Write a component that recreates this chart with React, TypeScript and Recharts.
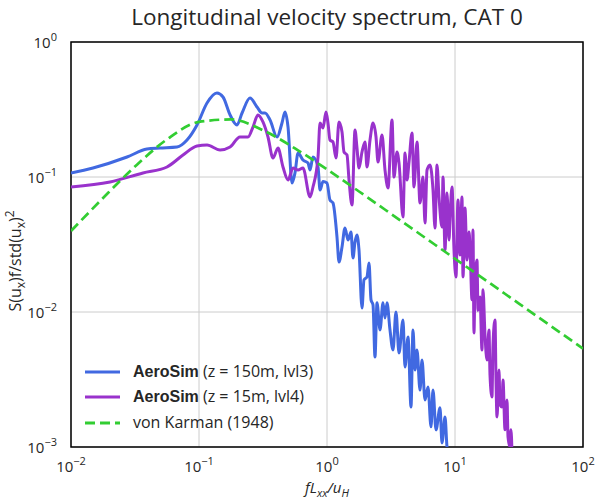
import React from 'react';
import { LineChart, Line, XAxis, YAxis, CartesianGrid, ReferenceArea } from 'recharts';

const FONT = '"Open Sans", "DejaVu Sans", sans-serif';
const TXT = '#262626';

const chartTitle = 'Longitudinal velocity spectrum, CAT 0';
const seriesNames = ['AeroSim', 'AeroSim', 'von Karman (1948)'];
const seriesDetails = [' (z = 150m, lvl3)', ' (z = 15m, lvl4)', ''];

const xTicks = [0.01, 0.1, 1, 10, 100];
const xTickExps = ['−2', '−1', '0', '1', '2'];
const yTicks = [0.001, 0.01, 0.1, 1];
const yTickExps = ['−3', '−2', '−1', '0'];

// AeroSim z = 150m, lvl3 : [fLxx/uH, S f / var]
const aero150: [number, number][] = [
  [0.0100, 0.1071], [0.01485, 0.1166], [0.0274, 0.1406], [0.0392, 0.1612], [0.0496, 0.1640],
  [0.0673, 0.1668], [0.0806, 0.1879], [0.0965, 0.2427], [0.1155, 0.3532], [0.138, 0.419],
  [0.154, 0.3914], [0.175, 0.2880], [0.198, 0.2427], [0.217, 0.2979], [0.250, 0.3847],
  [0.284, 0.3301], [0.311, 0.2979], [0.328, 0.2979], [0.359, 0.2644], [0.407, 0.1978],
  [0.445, 0.2512], [0.470, 0.3030], [0.496, 0.2346], [0.533, 0.0903], [0.562, 0.1071],
  [0.594, 0.1506], [0.649, 0.1336], [0.711, 0.1270], [0.737, 0.1127], [0.777, 0.1406],
  [0.851, 0.1186], [0.882, 0.0801], [0.931, 0.0925], [1.000, 0.0903], [1.055, 0.0676],
  [1.114, 0.0642], [1.197, 0.0359], [1.241, 0.0235], [1.310, 0.0303], [1.382, 0.0419],
  [1.459, 0.0341], [1.540, 0.0391], [1.596, 0.0251], [1.655, 0.0330], [1.715, 0.0372],
  [1.778, 0.0288], [1.877, 0.0107], [1.945, 0.0173], [2.054, 0.0182], [2.129, 0.0231],
  [2.207, 0.0123], [2.288, 0.0113], [2.371, 0.00464], [2.459, 0.0117], [2.595, 0.00736],
  [2.738, 0.0117], [2.839, 0.00903], [2.943, 0.0117], [3.106, 0.00736], [3.278, 0.00523],
  [3.459, 0.0100], [3.652, 0.00497], [3.924, 0.00873], [4.068, 0.00391], [4.295, 0.00653],
  [4.532, 0.00198], [4.697, 0.00736], [4.870, 0.00372], [5.048, 0.00523], [5.329, 0.00264],
  [5.524, 0.00441], [5.831, 0.00223], [6.154, 0.00278], [6.494, 0.00141], [6.732, 0.00264],
  [7.106, 0.00134], [7.636, 0.00195], [7.916, 0.00107], [8.356, 0.00167], [8.660, 0.00100],
  [8.800, 0.00090],
];

// AeroSim z = 15m, lvl4
const aero15: [number, number][] = [
  [0.0100, 0.0843], [0.0202, 0.0918], [0.0365, 0.1071], [0.0562, 0.1186], [0.0750, 0.1455],
  [0.0965, 0.1697], [0.1155, 0.1726], [0.146, 0.1585], [0.175, 0.1668], [0.209, 0.1978],
  [0.2415, 0.1978], [0.264, 0.2346], [0.289, 0.2880], [0.316, 0.2556], [0.346, 0.1978],
  [0.3785, 0.1382], [0.414, 0.1640], [0.453, 0.1186], [0.496, 0.0950], [0.5425, 0.1166],
  [0.594, 0.1127], [0.649, 0.1166], [0.737, 0.0711], [0.777, 0.0843], [0.851, 0.1406],
  [0.882, 0.2512], [0.931, 0.2307], [0.982, 0.3030], [1.018, 0.2512], [1.055, 0.1879],
  [1.114, 0.1816], [1.176, 0.1382], [1.241, 0.2556], [1.310, 0.2154], [1.358, 0.1532],
  [1.433, 0.1455], [1.486, 0.0950], [1.568, 0.0620], [1.655, 0.2229], [1.715, 0.1640],
  [1.778, 0.1166], [1.877, 0.1532], [1.981, 0.1816], [2.054, 0.1186], [2.168, 0.1879],
  [2.288, 0.2512], [2.415, 0.1978], [2.503, 0.1292], [2.690, 0.2047], [2.839, 0.1127],
  [2.997, 0.0829], [3.220, 0.2644], [3.338, 0.1000], [3.523, 0.1532], [3.652, 0.1270],
  [3.924, 0.0505], [4.068, 0.1506], [4.217, 0.0950], [4.373, 0.1292], [4.614, 0.2118],
  [4.784, 0.0843], [5.048, 0.1816], [5.329, 0.0642], [5.623, 0.1000], [5.831, 0.0456],
  [6.045, 0.1127], [6.378, 0.1227], [6.732, 0.0801], [6.980, 0.0419], [7.235, 0.1227],
  [7.499, 0.0711], [7.916, 0.0426], [8.060, 0.1000], [8.356, 0.0288], [8.660, 0.0761],
  [8.980, 0.0341], [9.144, 0.0505], [9.476, 0.0843], [9.822, 0.0288], [10.18, 0.0182],
  [10.55, 0.0676], [10.94, 0.0264], [11.34, 0.0711], [11.55, 0.0182], [11.97, 0.0589],
  [12.41, 0.0243], [12.86, 0.0391], [13.10, 0.0303], [13.58, 0.0123], [13.82, 0.0405],
  [14.07, 0.00699], [14.33, 0.0164], [14.86, 0.0243], [15.12, 0.0103], [15.68, 0.0129],
  [16.25, 0.00523], [16.55, 0.0146], [17.15, 0.00676], [17.78, 0.00441], [18.43, 0.00736],
  [18.77, 0.00341], [19.45, 0.00235], [19.81, 0.00570], [20.54, 0.00873], [20.91, 0.00313],
  [21.29, 0.00167], [22.07, 0.00372], [22.47, 0.00205], [23.29, 0.00198], [23.71, 0.00313],
  [24.59, 0.00134], [25.49, 0.00223], [25.95, 0.00119], [26.90, 0.00100], [27.38, 0.00134],
  [27.88, 0.00090],
];

// von Karman (1948) reference spectrum
const vonKarman: [number, number][] = [
  [0.01, 0.0398], [0.0178, 0.0699], [0.0316, 0.1195], [0.0562, 0.190], [0.1, 0.256],
  [0.178, 0.267], [0.316, 0.222], [0.562, 0.163], [1, 0.1138], [1.78, 0.0781],
  [3.16, 0.0534], [5.62, 0.0364], [10, 0.0248], [17.8, 0.01692], [31.6, 0.01153],
  [56.2, 0.00786], [100, 0.00536],
];

const toRows = (arr: [number, number][]) => arr.map(([x, y]) => ({ x, y }));

const seriesColors = ['#4169E1', '#9932CC', '#32CD32'];

const expFor = (v: number, ticks: number[], exps: string[]) => {
  let best = 0;
  ticks.forEach((t, i) => {
    if (Math.abs(Math.log10(t) - Math.log10(v)) < Math.abs(Math.log10(ticks[best]) - Math.log10(v))) best = i;
  });
  return exps[best];
};

const XTick = (props: any) => {
  const { x, y, payload } = props;
  return (
    <text x={x} y={y + 17} textAnchor="middle" fontSize={15} fill={TXT} fontFamily={FONT}>
      <tspan>10</tspan>
      <tspan dy={-7} fontSize={11}>{expFor(payload.value, xTicks, xTickExps)}</tspan>
    </text>
  );
};

const YTick = (props: any) => {
  const { x, y, payload } = props;
  return (
    <text x={x - 6} y={y + 6} textAnchor="end" fontSize={15} fill={TXT} fontFamily={FONT}>
      <tspan>10</tspan>
      <tspan dy={-7} fontSize={11}>{expFor(payload.value, yTicks, yTickExps)}</tspan>
    </text>
  );
};

export default function App() {
  return (
    <div style={{ position: 'absolute', left: 0, top: 0, width: 600, height: 500, background: '#fff' }}>
      <LineChart width={600} height={500} margin={{ top: 42, right: 17, bottom: 23, left: 11 }}>
        <CartesianGrid stroke="#cccccc" strokeWidth={1} />
        <XAxis
          type="number"
          dataKey="x"
          scale="log"
          domain={[0.01, 100]}
          ticks={xTicks}
          allowDataOverflow
          tick={XTick}
          tickLine={false}
          axisLine={false}
          height={30}
          interval={0}
        />
        <YAxis
          type="number"
          dataKey="y"
          scale="log"
          domain={[0.001, 1]}
          ticks={yTicks}
          allowDataOverflow
          tick={YTick}
          tickLine={false}
          axisLine={false}
          width={60}
          interval={0}
        />
        <Line data={toRows(aero150)} dataKey="y" type="monotone" stroke={seriesColors[0]} strokeWidth={3} dot={false} isAnimationActive={false} />
        <Line data={toRows(aero15)} dataKey="y" type="monotone" stroke={seriesColors[1]} strokeWidth={3} dot={false} isAnimationActive={false} />
        <Line data={toRows(vonKarman)} dataKey="y" type="monotone" stroke={seriesColors[2]} strokeWidth={2.7} strokeDasharray="10 5" dot={false} isAnimationActive={false} />
        <ReferenceArea x1={0.01} x2={100} y1={0.001} y2={1} stroke="#000" strokeWidth={1.5} fill="none" fillOpacity={0} ifOverflow="visible" />
      </LineChart>
      <svg width={600} height={500} style={{ position: 'absolute', left: 0, top: 0, pointerEvents: 'none' }}>
        <text x={327} y={25} textAnchor="middle" fontSize={22.5} fill={TXT} fontFamily={FONT}>{chartTitle}</text>
        <text x={327} y={493} textAnchor="middle" fontSize={15} fill={TXT} fontFamily={FONT} fontStyle="italic">
          <tspan>fL</tspan><tspan dy={4} fontSize={11}>xx</tspan><tspan dy={-4}>/u</tspan><tspan dy={4} fontSize={11}>H</tspan>
        </text>
        <text transform="translate(21,261) rotate(-90)" textAnchor="middle" fontSize={16} fill={TXT} fontFamily={FONT}>
          <tspan>S(u</tspan><tspan dy={4} fontSize={12}>x</tspan><tspan dy={-4}>)f/std(u</tspan><tspan dy={4} fontSize={12}>x</tspan><tspan dy={-4}>)</tspan><tspan dy={-7} fontSize={12}>2</tspan>
        </text>
        {[372, 397, 423].map((ly, i) => (
          <g key={i}>
            <line x1={85} x2={120} y1={ly} y2={ly} stroke={seriesColors[i]} strokeWidth={3} strokeDasharray={i === 2 ? '10 5' : undefined} />
            <text x={133} y={ly + 5} fontSize={16} fill={TXT} fontFamily={FONT}>
              {i < 2 ? (
                <>
                  <tspan fontWeight="bold" fontFamily='"Liberation Sans", Arial, sans-serif'>{seriesNames[i]}</tspan>
                  <tspan>{seriesDetails[i]}</tspan>
                </>
              ) : (
                <tspan>{seriesNames[i]}</tspan>
              )}
            </text>
          </g>
        ))}
      </svg>
    </div>
  );
}
